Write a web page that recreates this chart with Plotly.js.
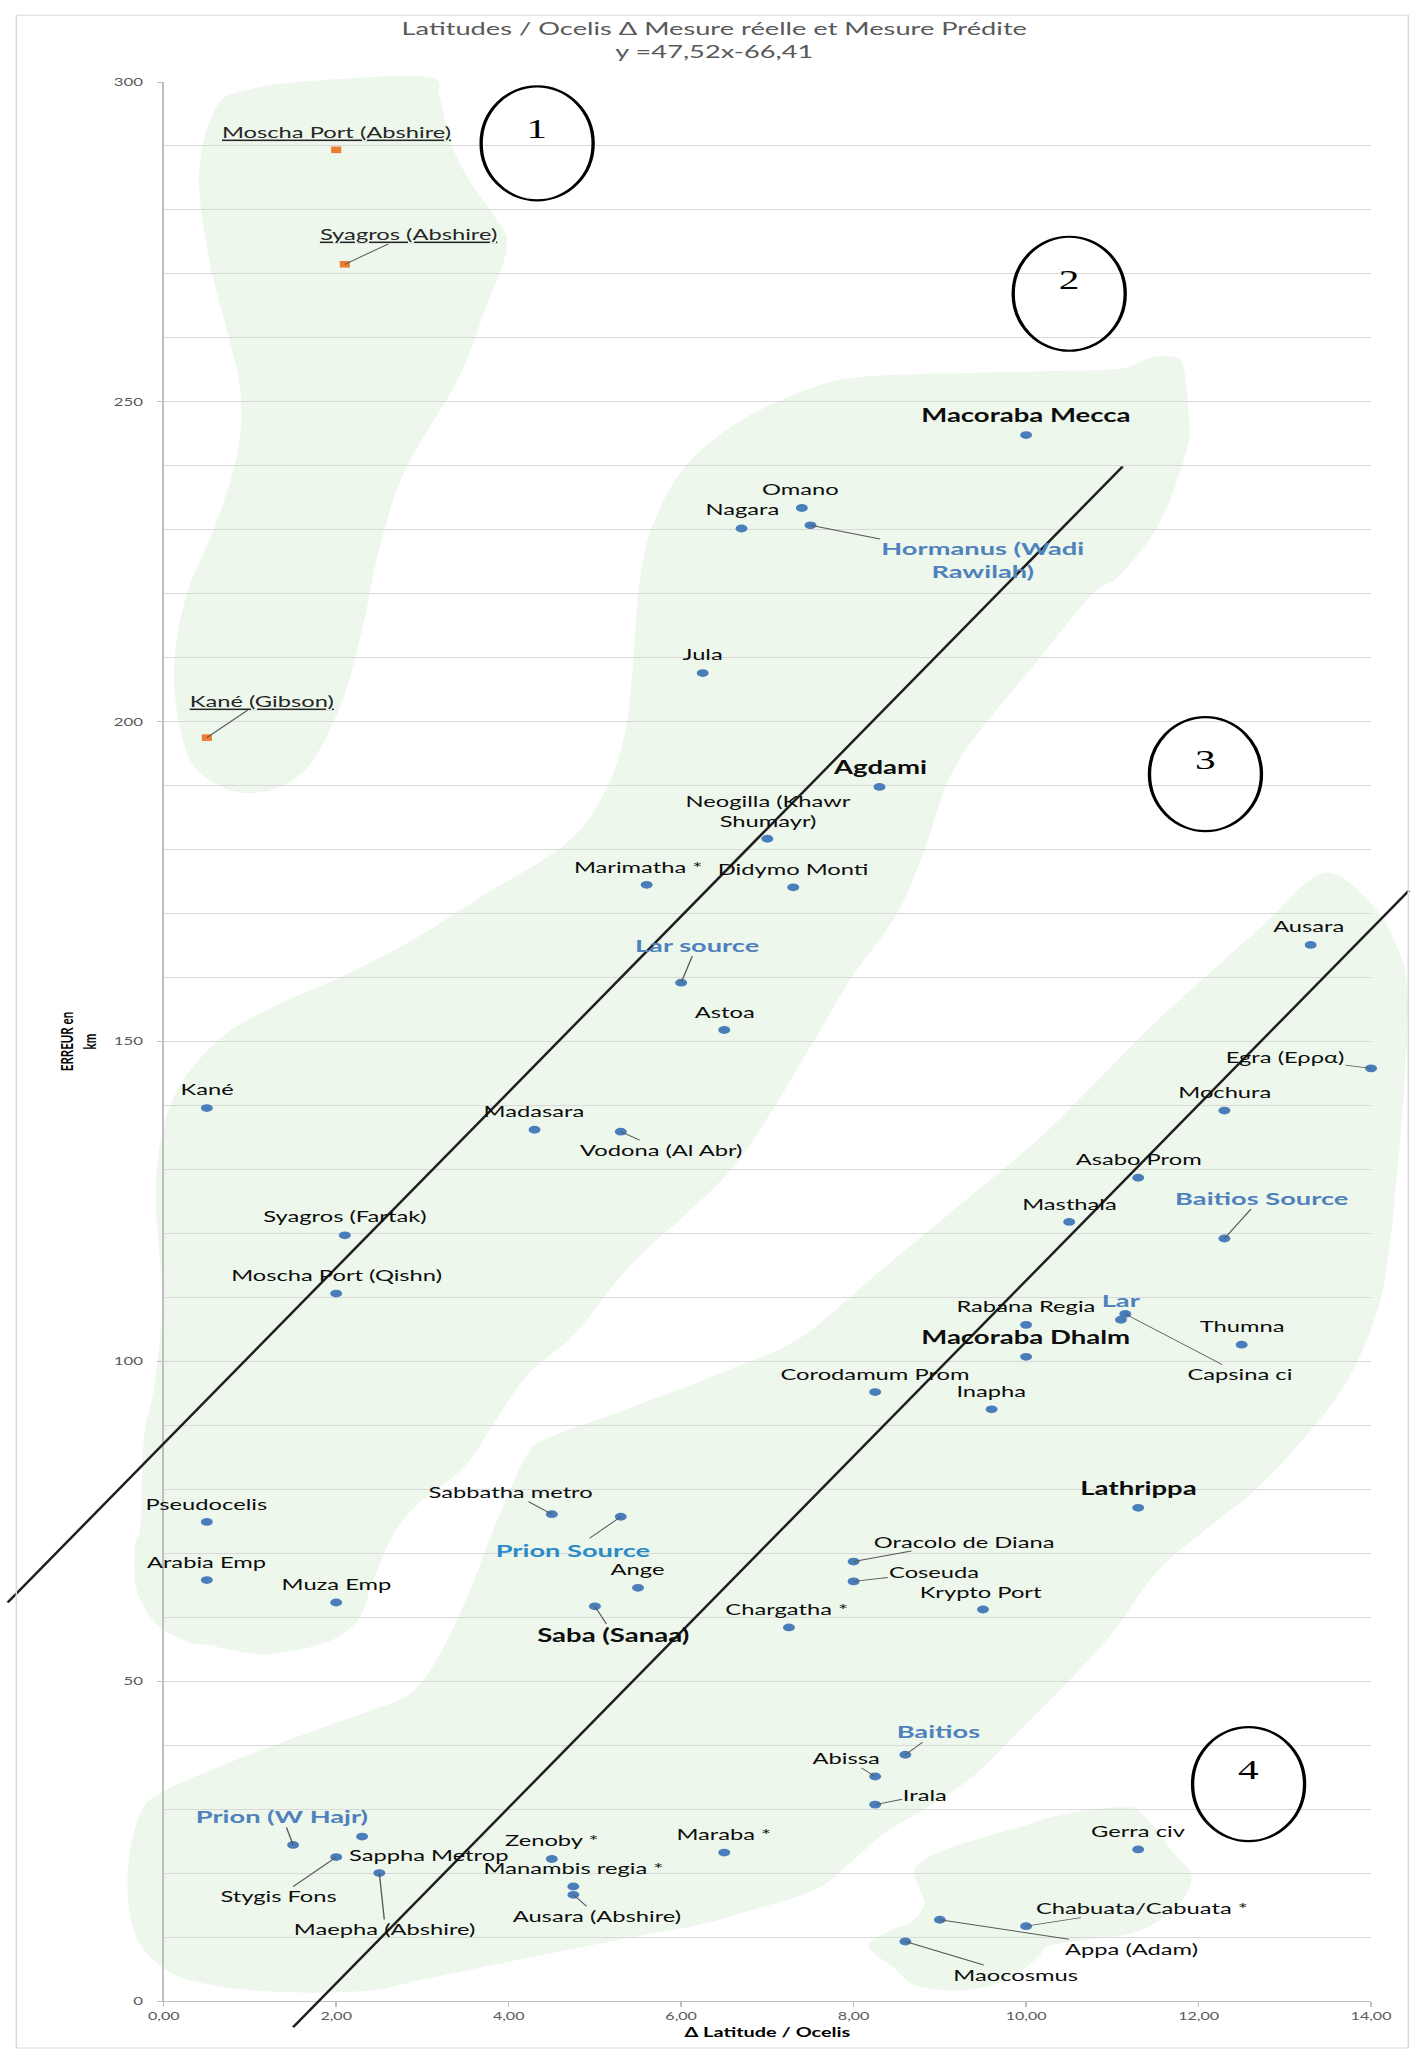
<!DOCTYPE html>
<html>
<head>
<meta charset="utf-8">
<script src="https://cdn.plot.ly/plotly-3.0.1.min.js"></script>
<style>
  html, body { margin: 0; padding: 0; background: #fff; overflow: hidden; }
  #frame { width: 1420px; height: 2051px; overflow: hidden; }
  /* the chart is laid out narrow and widened horizontally */
  #chart { width: 928px; height: 2051px; transform-origin: 0 0; }
</style>
</head>
<body>
<div id="frame"><div id="chart"></div></div>
<script>
// ---- data: Δ latitude (Ocelis) and error in km ----
const sites = [
  'Macoraba Mecca', 'Omano', 'Nagara', 'Hormanus (Wadi Rawilah)', 'Jula', 'Agdami',
  'Neogilla (Khawr Shumayr)', 'Marimatha *', 'Didymo Monti', 'Lar source', 'Astoa', 'Kané',
  'Madasara', 'Vodona (Al Abr)', 'Syagros (Fartak)', 'Moscha Port (Qishn)', 'Ausara',
  'Egra (Ερρα)', 'Mochura', 'Asabo Prom', 'Masthala', 'Baitios Source', 'Rabana Regia',
  'Lar', 'Capsina ci', 'Thumna', 'Macoraba Dhalm', 'Corodamum Prom', 'Inapha', 'Lathrippa',
  'Pseudocelis', 'Sabbatha metro', 'Prion Source', 'Ange', 'Oracolo de Diana', 'Coseuda',
  'Arabia Emp', 'Muza Emp', 'Saba (Sanaa)', 'Krypto Port', 'Chargatha *', 'Baitios',
  'Abissa', 'Irala', 'Gerra civ', 'Chabuata/Cabuata *', 'Appa (Adam)', 'Maocosmus',
  'Maraba *', 'Prion (W Hajr)', 'Sappha Metrop', 'Stygis Fons', 'Maepha (Abshire)',
  'Zenoby *', 'Manambis regia *', 'Ausara (Abshire)'
];
const deltaLatitude = [
  10.0, 7.4, 6.7, 7.5, 6.25, 8.3,
  7.0, 5.6, 7.3, 6.0, 6.5, 0.5,
  4.3, 5.3, 2.1, 2.0, 13.3,
  14.0, 12.3, 11.3, 10.5, 12.3, 10.0,
  11.1, 11.15, 12.5, 10.0, 8.25, 9.6, 11.3,
  0.5, 4.5, 5.3, 5.5, 8.0, 8.0,
  0.5, 2.0, 5.0, 9.5, 7.25, 8.6,
  8.25, 8.25, 11.3, 10.0, 9.0, 8.6,
  6.5, 1.5, 2.3, 2.0, 2.5,
  4.5, 4.75, 4.75
];
const errorKm = [
  244.8, 233.4, 230.2, 230.7, 207.6, 189.8,
  181.7, 174.5, 174.1, 159.2, 151.8, 139.6,
  136.2, 135.9, 119.7, 110.6, 165.1,
  145.8, 139.2, 128.7, 121.8, 119.2, 105.7,
  106.5, 107.4, 102.6, 100.7, 95.2, 92.5, 77.1,
  74.9, 76.1, 75.7, 64.6, 68.7, 65.6,
  65.8, 62.3, 61.7, 61.2, 58.4, 38.5,
  35.1, 30.7, 23.7, 11.7, 12.7, 9.3,
  23.2, 24.4, 25.7, 22.5, 20.0,
  22.2, 17.9, 16.6
];

const abshireSites = ['Moscha Port (Abshire)', 'Syagros (Abshire)', 'Kané (Gibson)'];
const abshireDeltaLatitude = [2.0, 2.1, 0.5];
const abshireErrorKm = [289.4, 271.5, 197.5];

// two parallel trend lines (Δ latitude, km)
const upperTrendX = [-1.81, 11.12];
const upperTrendY = [62.3, 239.9];
const lowerTrendX = [1.50, 14.44];
const lowerTrendY = [-4.1, 173.6];

// numbered groups
const groupIds = ['1', '2', '3', '4'];
const groupX = [4.33, 10.50, 12.08, 12.58];
const groupY = [290.4, 266.9, 191.8, 33.9];

// ---- outlines of the shaded groups, in axis units ----
const groupOneOutline = [
  [0.61,296.1],[0.98,298.8],[1.74,300.2],[3.05,300.8],[3.20,297.5],[3.33,290.4],[3.56,284.3],
  [3.83,279.1],[3.98,274.2],[3.71,263.8],[3.41,253.4],[2.80,239.3],[2.50,227.0],[2.30,214.3],
  [2.05,202.5],[1.61,192.0],[0.98,188.8],[0.42,192.0],[0.20,198.4],[0.12,208.8],[0.27,220.0],
  [0.61,231.1],[0.86,242.3],[0.89,251.5],[0.76,259.7],[0.53,272.0],[0.41,285.7]
];
const groupTwoOutline = [
  [5.52,222.1],[5.68,231.1],[6.06,240.1],[6.71,247.2],[7.50,252.1],[8.18,254.0],[9.62,254.6],
  [10.91,255.0],[11.21,255.6],[11.44,256.9],[11.67,257.1],[11.82,255.6],[11.89,247.2],
  [11.86,242.3],[11.55,231.1],[11.09,222.9],[10.77,220.0],[10.15,209.8],[9.21,193.7],
  [8.80,179.1],[8.49,169.7],[7.95,159.5],[7.55,150.3],[6.62,130.7],[5.42,115.1],[4.77,104.3],
  [4.24,98.2],[3.86,91.0],[3.49,83.6],[2.95,77.7],[2.65,72.6],[2.42,65.4],[2.27,59.9],
  [1.98,56.6],[1.52,54.8],[1.08,54.2],[0.53,55.6],[0.23,56.4],[-0.11,59.3],[-0.32,64.6],
  [-0.33,71.4],[-0.27,74.4],[-0.23,87.9],[-0.11,96.1],[-0.02,109.6],[-0.09,128.0],[0.11,141.1],
  [0.64,150.3],[1.30,155.6],[2.09,160.3],[2.94,166.3],[3.65,172.4],[4.67,181.0],[5.12,189.2],
  [5.35,198.4],[5.44,208.8]
];
const groupThreeOutline = [
  [13.23,174.6],[13.56,176.3],[13.97,172.0],[14.23,166.9],[14.42,158.5],[14.38,141.7],
  [14.27,124.9],[14.23,119.4],[14.08,108.2],[13.73,97.1],[13.23,88.1],[12.65,79.8],[12.27,75.7],
  [11.53,67.3],[11.00,57.5],[10.47,49.7],[9.94,42.5],[9.41,35.4],[8.88,30.5],[8.35,26.2],
  [7.97,21.7],[7.55,17.4],[6.74,13.9],[6.21,11.9],[5.38,9.8],[4.62,7.8],[3.99,6.1],[3.05,3.5],
  [2.36,1.6],[1.33,1.4],[0.56,2.5],[0.05,4.7],[-0.32,10.0],[-0.42,19.6],[-0.27,29.4],
  [0.05,33.1],[0.82,37.6],[1.59,41.5],[2.36,45.2],[2.88,48.3],[3.20,54.2],[3.52,63.2],
  [3.82,73.6],[4.08,81.8],[4.23,85.7],[4.44,87.9],[5.47,93.0],[6.50,98.4],[7.38,103.7],
  [8.27,113.7],[9.27,124.9],[10.26,136.2],[11.50,153.0],[12.74,168.1]
];
const groupFourOutline = [
  [11.17,30.3],[10.85,30.1],[10.36,29.0],[9.94,27.2],[9.52,25.6],[8.99,23.3],[8.71,20.7],
  [8.77,17.4],[8.82,15.1],[8.67,12.3],[8.46,11.2],[8.18,9.0],[8.24,7.4],[8.46,5.3],[8.71,2.5],
  [9.20,1.6],[9.62,2.5],[9.94,4.7],[10.15,7.0],[10.26,8.6],[10.74,9.6],[11.27,10.8],
  [11.64,13.5],[11.86,16.8],[11.91,20.0],[11.70,23.3],[11.49,27.2],[11.27,30.1]
];

// ---- page geometry ----
const FULL_W = 1420, FULL_H = 2051, BASE_W = 928;
const S = FULL_W / BASE_W;               // horizontal widening factor
const X_RANGE = [0, 14], Y_RANGE = [0, 300];
const M = { l: 163.5 / S, r: 48.3 / S, t: 81.7, b: 50 };
const PLOT_W = BASE_W - M.l - M.r, PLOT_H = FULL_H - M.t - M.b;

document.getElementById('chart').style.transform = 'scaleX(' + S + ')';

const toPaperX = x => (x - X_RANGE[0]) / (X_RANGE[1] - X_RANGE[0]);
const toPaperY = y => (y - Y_RANGE[0]) / (Y_RANGE[1] - Y_RANGE[0]);

function smoothClosedPath(outline) {
  const p = outline.map(([x, y]) => [toPaperX(x), toPaperY(y)]);
  const n = p.length;
  const f = v => v.toFixed(5);
  let d = 'M' + f(p[0][0]) + ',' + f(p[0][1]);
  for (let i = 0; i < n; i++) {
    const p0 = p[(i - 1 + n) % n], p1 = p[i], p2 = p[(i + 1) % n], p3 = p[(i + 2) % n];
    const c1 = [p1[0] + (p2[0] - p0[0]) / 6, p1[1] + (p2[1] - p0[1]) / 6];
    const c2 = [p2[0] - (p3[0] - p1[0]) / 6, p2[1] - (p3[1] - p1[1]) / 6];
    d += ' C' + f(c1[0]) + ',' + f(c1[1]) + ' ' + f(c2[0]) + ',' + f(c2[1]) + ' ' + f(p2[0]) + ',' + f(p2[1]);
  }
  return d + ' Z';
}

// ---- label styling ----
const FONT = 'Lato, "Open Sans", sans-serif';
const labelFonts = {
  plain: { family: FONT, size: 15.5, color: '#0d0d0d' },
  bold:  { family: FONT, size: 18, color: '#0d0d0d', weight: 700 },
  blue:  { family: FONT, size: 17.8, color: '#4f81bd', weight: 700 },
  cyan:  { family: FONT, size: 17.8, color: '#2b8bc9', weight: 700 },
  under: { family: FONT, size: 15.5, color: '#262626', lineposition: 'under' }
};
const labelKind = {
  'Macoraba Mecca': 'bold', 'Agdami': 'bold', 'Macoraba Dhalm': 'bold', 'Lathrippa': 'bold',
  'Saba (Sanaa)': 'bold',
  'Hormanus (Wadi Rawilah)': 'blue', 'Lar source': 'blue', 'Baitios Source': 'blue', 'Lar': 'blue',
  'Baitios': 'blue', 'Prion (W Hajr)': 'blue', 'Prion Source': 'cyan',
  'Moscha Port (Abshire)': 'under', 'Syagros (Abshire)': 'under', 'Kané (Gibson)': 'under'
};
const labelText = {
  'Hormanus (Wadi Rawilah)': 'Hormanus (Wadi<br>Rawilah)',
  'Neogilla (Khawr Shumayr)': 'Neogilla (Khawr<br>Shumayr)'
};
// label centre offset from its point on the page [dx, dy, leader line]
const labelOffsets = {
  'Moscha Port (Abshire)': [0, -18, false], 'Syagros (Abshire)': [64, -30, true],
  'Kané (Gibson)': [55, -37, true], 'Macoraba Mecca': [0, -20, false], 'Omano': [-1, -19, false],
  'Nagara': [0, -19, false], 'Hormanus (Wadi Rawilah)': [172, 34, true], 'Jula': [0, -19, false],
  'Agdami': [0, -20, false], 'Neogilla (Khawr Shumayr)': [0, -28, false],
  'Marimatha *': [-9, -18, false], 'Didymo Monti': [0, -18, false], 'Lar source': [16, -38, true],
  'Astoa': [0, -18, false], 'Kané': [0, -19, false], 'Madasara': [0, -18.5, false],
  'Vodona (Al Abr)': [40, 18, true], 'Syagros (Fartak)': [0, -19, false],
  'Moscha Port (Qishn)': [0, -19, false], 'Ausara': [-2, -19, false], 'Egra (Ερρα)': [-86, -11, true],
  'Mochura': [0, -19, false], 'Asabo Prom': [0, -19, false], 'Masthala': [0, -18, false],
  'Baitios Source': [37, -41, true], 'Rabana Regia': [0, -18.5, false], 'Lar': [0, -20, false],
  'Capsina ci': [115, 60, true], 'Thumna': [0, -18.5, false], 'Macoraba Dhalm': [0, -20, false],
  'Corodamum Prom': [0, -18.5, false], 'Inapha': [0, -18.5, false], 'Lathrippa': [0, -20, false],
  'Pseudocelis': [0, -18, false], 'Sabbatha metro': [-41, -22, true], 'Prion Source': [-48, 33, true],
  'Ange': [0, -18.5, false], 'Oracolo de Diana': [110, -20, true], 'Coseuda': [80, -9, true],
  'Arabia Emp': [0, -18, false], 'Muza Emp': [0, -18, false], 'Saba (Sanaa)': [19, 29, true],
  'Krypto Port': [-2, -18, false], 'Chargatha *': [-2, -18.5, false], 'Baitios': [33, -24, true],
  'Abissa': [-29, -18, true], 'Irala': [50, -10, true], 'Gerra civ': [0, -18, false],
  'Chabuata/Cabuata *': [116, -18, true], 'Appa (Adam)': [192, 29, true],
  'Maocosmus': [110, 33, true], 'Maraba *': [0, -19, false], 'Prion (W Hajr)': [-11, -29, true],
  'Sappha Metrop': [67, 18, false], 'Stygis Fons': [-57, 39, true],
  'Maepha (Abshire)': [6, 56, true], 'Zenoby *': [0, -19, false],
  'Manambis regia *': [0, -19, false], 'Ausara (Abshire)': [24, 21, true]
};

function pointLabel(name, x, y) {
  const o = labelOffsets[name] || [0, -18, false];
  const base = {
    x: x, y: y, xref: 'x', yref: 'y',
    text: labelText[name] || name,
    font: Object.assign({}, labelFonts[labelKind[name] || 'plain']),
    align: 'center', borderpad: 0
  };
  if (o[2]) {
    return Object.assign(base, {
      showarrow: true, arrowhead: 0, arrowwidth: 0.9, arrowcolor: '#5a5a5a',
      ax: o[0] / S, ay: o[1], standoff: 0
    });
  }
  return Object.assign(base, { showarrow: false, xanchor: 'center', yanchor: 'middle',
    xshift: o[0] / S, yshift: -o[1] });
}

// ---- traces ----
const traces = [
  {
    type: 'scatter', mode: 'markers', name: 'Mesure',
    x: deltaLatitude, y: errorKm, text: sites,
    marker: { symbol: 'circle', size: 7.8, color: '#4a7ebb' },
    hoverinfo: 'text', cliponaxis: false
  },
  {
    type: 'scatter', mode: 'markers', name: 'Abshire',
    x: abshireDeltaLatitude, y: abshireErrorKm, text: abshireSites,
    marker: { symbol: 'square', size: 6.6, color: '#ed7d31' },
    hoverinfo: 'text', cliponaxis: false
  }
];

// ---- shapes ----
const shapes = [];
[groupOneOutline, groupTwoOutline, groupThreeOutline, groupFourOutline].forEach(outline => {
  shapes.push({
    type: 'path', xref: 'paper', yref: 'paper', layer: 'below',
    path: smoothClosedPath(outline), fillcolor: '#edf7ec', line: { width: 0 }
  });
});
[[upperTrendX, upperTrendY], [lowerTrendX, lowerTrendY]].forEach(([lx, ly]) => {
  shapes.push({
    type: 'line', xref: 'paper', yref: 'paper', layer: 'above',
    x0: toPaperX(lx[0]), y0: toPaperY(ly[0]), x1: toPaperX(lx[1]), y1: toPaperY(ly[1]),
    line: { color: '#1e1e1e', width: 1.9 }
  });
});
groupIds.forEach((id, i) => {
  shapes.push({
    type: 'circle', xref: 'x', yref: 'y', xsizemode: 'pixel', ysizemode: 'pixel',
    xanchor: groupX[i], yanchor: groupY[i],
    x0: -56 / S, x1: 56 / S, y0: -57, y1: 57,
    line: { color: '#000000', width: 2.2 }, layer: 'above'
  });
});
// outer chart frame
shapes.push({
  type: 'rect', xref: 'paper', yref: 'paper', layer: 'above',
  x0: (16 / S - M.l) / PLOT_W, x1: (1409 / S - M.l) / PLOT_W,
  y0: (FULL_H - M.b - 2048) / PLOT_H, y1: (FULL_H - M.b - 15) / PLOT_H,
  line: { color: '#d9d9d9', width: 1 }
});

// ---- annotations ----
const annotations = [];
sites.forEach((n, i) => annotations.push(pointLabel(n, deltaLatitude[i], errorKm[i])));
abshireSites.forEach((n, i) => annotations.push(pointLabel(n, abshireDeltaLatitude[i], abshireErrorKm[i])));
groupIds.forEach((id, i) => annotations.push({
  x: groupX[i], y: groupY[i], xref: 'x', yref: 'y', text: id, showarrow: false,
  yshift: 14, font: { family: '"Liberation Serif", "DejaVu Serif", serif', size: 27, color: '#000' }
}));

const layout = {
  width: BASE_W, height: FULL_H,
  margin: { l: M.l, r: M.r, t: M.t, b: M.b, pad: 0 },
  paper_bgcolor: '#ffffff', plot_bgcolor: 'rgba(0,0,0,0)',
  showlegend: false, separators: ', ',
  title: {
    text: 'Latitudes / Ocelis Δ Mesure réelle et Mesure Prédite<br>y =47,52x-66,41',
    x: 0.503, xref: 'container', xanchor: 'center',
    y: 1 - 35 / FULL_H, yref: 'container', yanchor: 'top',
    font: { family: FONT, size: 17.8, color: '#595959' }
  },
  xaxis: {
    range: X_RANGE, dtick: 2, tick0: 0, tickformat: '.2f',
    showgrid: false, zeroline: false,
    showline: true, linecolor: '#bfbfbf', linewidth: 1,
    ticks: 'outside', ticklen: 5, tickcolor: '#bfbfbf', tickwidth: 1,
    tickfont: { family: FONT, size: 10.5, color: '#595959' },
    title: { text: 'Δ Latitude / Ocelis', standoff: 7,
      font: { family: FONT, size: 13, color: '#000', weight: 700 } }
  },
  yaxis: {
    range: Y_RANGE, dtick: 50, tick0: 0,
    showgrid: true, gridcolor: '#d9d9d9', gridwidth: 1, zeroline: false,
    minor: { dtick: 10, showgrid: true, gridcolor: '#d9d9d9', gridwidth: 1, ticks: '' },
    showline: true, linecolor: '#bfbfbf', linewidth: 1,
    ticks: 'outside', ticklen: 3.3, tickcolor: '#bfbfbf', tickwidth: 1,
    ticklabelstandoff: 7,
    tickfont: { family: FONT, size: 11, color: '#595959' },
    title: { text: 'ERREUR en<br>km', standoff: 8,
      font: { family: FONT, size: 11.5, color: '#000', weight: 700 } }
  },
  shapes: shapes,
  annotations: annotations
};

Plotly.newPlot('chart', traces, layout, { displayModeBar: false, staticPlot: true });
</script>
</body>
</html>
